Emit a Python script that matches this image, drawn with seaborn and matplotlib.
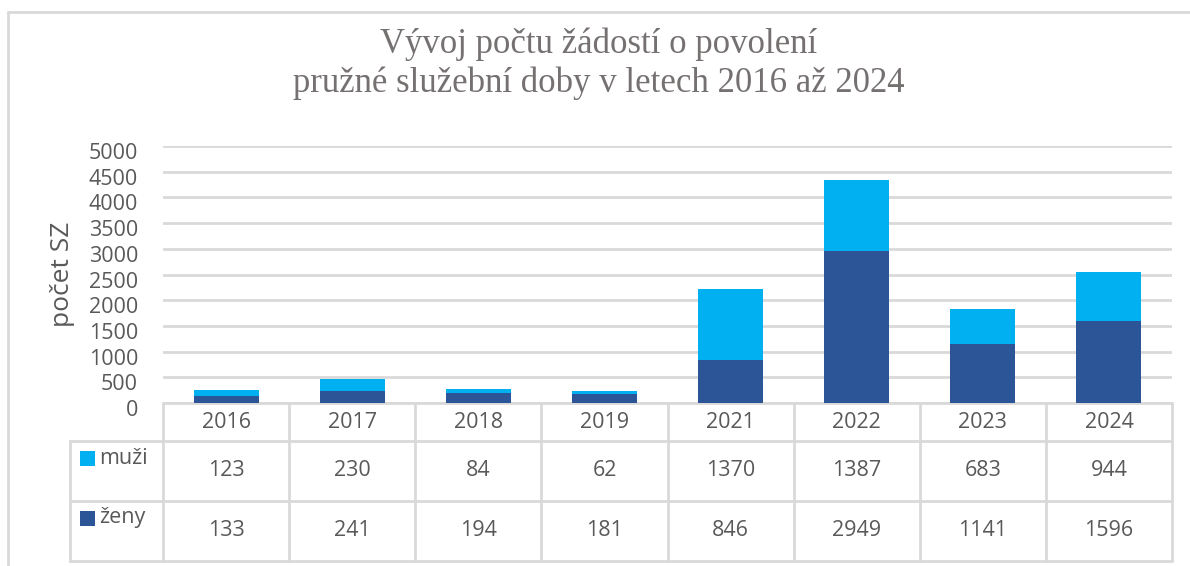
import matplotlib
matplotlib.use("Agg")
import matplotlib.pyplot as plt
import matplotlib.transforms as mtransforms
from matplotlib.patches import Rectangle
import numpy as np
import pandas as pd
import seaborn as sns

# data
roky = ["2016", "2017", "2018", "2019", "2021", "2022", "2023", "2024"]
muzi = [123, 230, 84, 62, 1370, 1387, 683, 944]
zeny = [133, 241, 194, 181, 846, 2949, 1141, 1596]
serie = ["muži", "ženy"]

C_MUZI = "#00B0F0"
C_ZENY = "#2B5597"
C_TEXT = "#595959"
C_GRID = "#D9D9D9"

sns.set_theme(style="white")
plt.rcParams["font.family"] = ["Open Sans", "DejaVu Sans"]

df = pd.DataFrame({"rok": roky, "muži": muzi, "ženy": zeny})
df["celkem"] = df["muži"] + df["ženy"]

fig = plt.figure(figsize=(11.9, 5.66), dpi=100)
W, H = 1190, 566
ax = fig.add_axes([163 / W, 1 - 403 / H, (1172 - 163) / W, (403 - 146) / H])

# stacked bars: total in light blue, women drawn over it from zero
sns.barplot(data=df, x="rok", y="celkem", color=C_MUZI, width=0.515,
            saturation=1, ax=ax, zorder=3, linewidth=0, edgecolor="none")
sns.barplot(data=df, x="rok", y="ženy", color=C_ZENY, width=0.515,
            saturation=1, ax=ax, zorder=3, linewidth=0, edgecolor="none")

ax.set_ylim(0, 5000)
ax.set_xlim(-0.5, len(roky) - 0.5)
ax.set_yticks(np.arange(0, 5001, 500))
ax.yaxis.grid(True, color=C_GRID, linewidth=2, zorder=0)
ax.set_axisbelow(True)
for s in ax.spines.values():
    s.set_visible(False)
ax.tick_params(axis="y", length=0, labelsize=15.5, colors=C_TEXT, pad=18)
# labels sit a little below their gridlines, like in Excel
posun = mtransforms.ScaledTranslation(0, -5 / 100, fig.dpi_scale_trans)
for lab in ax.get_yticklabels():
    lab.set_transform(lab.get_transform() + posun)
ax.set_xticks([])
ax.set_xlabel("")
ax.set_ylabel("počet SZ", fontsize=19, color=C_TEXT, labelpad=10)

# data table under the chart
tr = mtransforms.blended_transform_factory(ax.transData, ax.transAxes)
px = 1 / 257
y_head = -38 * px
y_r1 = -98 * px
y_r2 = -158 * px
x_lab = -0.5 - (163 - 70) / 126.1
n = len(roky)
lkw = dict(color=C_GRID, linewidth=2, transform=tr, clip_on=False, zorder=1)

ax.plot([-0.5, n - 0.5], [0, 0], **lkw)
for yy in (y_head, y_r1, y_r2):
    ax.plot([x_lab, n - 0.5], [yy, yy], **lkw)
for i in range(n + 1):
    ax.plot([i - 0.5, i - 0.5], [0, y_r2], **lkw)
ax.plot([x_lab, x_lab], [y_head, y_r2], **lkw)

tkw = dict(transform=tr, ha="center", va="center", fontsize=15.5,
           color=C_TEXT, clip_on=False)
for i, r in enumerate(roky):
    ax.text(i, (0 + y_head) / 2, r, **tkw)
    ax.text(i, (y_head + y_r1) / 2, str(muzi[i]), **tkw)
    ax.text(i, (y_r1 + y_r2) / 2, str(zeny[i]), **tkw)

# legend keys in the row labels
for nazev, barva, ytop in ((serie[0], C_MUZI, y_head), (serie[1], C_ZENY, y_r1)):
    yc = ytop - 17 * px
    ax.add_patch(Rectangle((x_lab + 10 / 126.1, yc - 7.5 * px), 15 / 126.1, 15 * px,
                           facecolor=barva, edgecolor="none", transform=tr,
                           clip_on=False))
    ax.text(x_lab + 29 / 126.1, yc, nazev, transform=tr, ha="left", va="center",
            fontsize=15.5, color=C_TEXT, clip_on=False)

# chart frame
fig.add_artist(plt.Line2D([8 / W, 8 / W], [0, 1 - 12 / H], color=C_GRID, linewidth=2))
fig.add_artist(plt.Line2D([8 / W, 1], [1 - 12 / H, 1 - 12 / H], color=C_GRID, linewidth=2))

fig.text(599 / W, 1 - 64 / H,
         "Vývoj počtu žádostí o povolení\npružné služební doby v letech 2016 až 2024",
         ha="center", va="center", fontsize=25, color="#767171",
         family=["Liberation Serif", "DejaVu Serif"], linespacing=1.2)

fig.savefig("out.png", dpi=100)
